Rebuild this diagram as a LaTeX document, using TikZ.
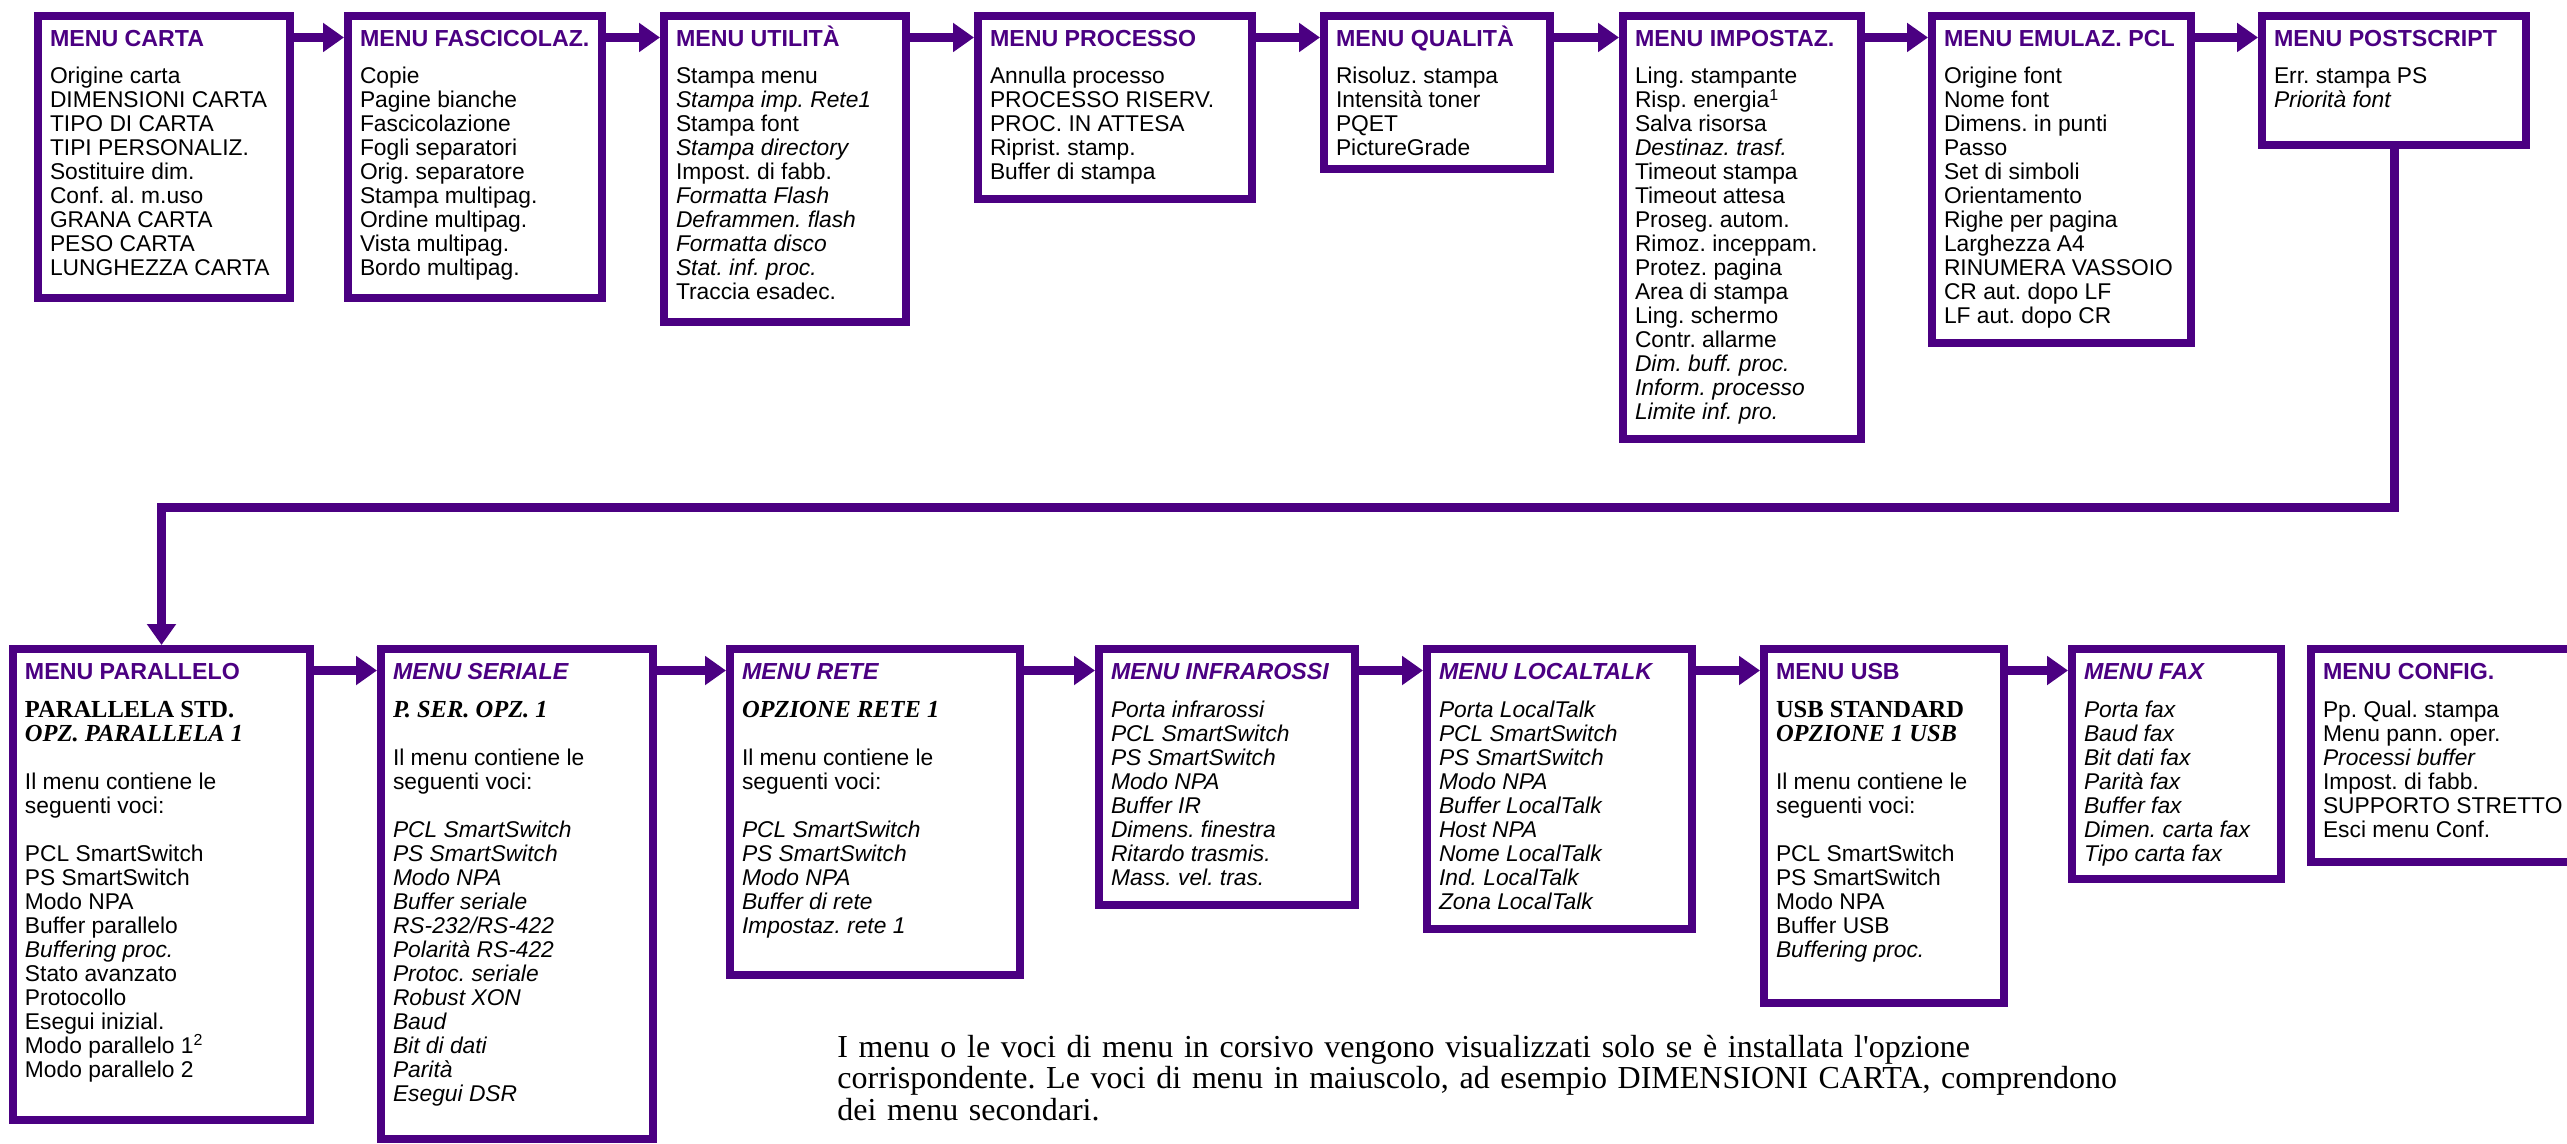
\documentclass[tikz,border=0pt]{standalone}
\usepackage{fontspec}
\setmainfont{Liberation Sans}
\newfontfamily\seriffont{Liberation Serif}
\usepackage{tikz}
\usetikzlibrary{arrows.meta}
\definecolor{indaco}{RGB}{75,0,130}
\frenchspacing
\newlength{\pxu}
\setlength{\pxu}{0.5pt}
\tikzset{
    menubox/.style={
        draw=indaco,
        line width=4pt,
        outer sep=2pt,
        inner xsep=6pt,
        inner ysep=0pt,
        anchor=north west
    },
    flow/.style={
        draw=indaco,
        line width=4.5pt,
        -{Triangle[length=10.5pt,width=14pt]}
    },
    note/.style={
        anchor=base west,
        inner sep=0pt,
        text width=700pt,
        font=\seriffont\fontsize{16}{15.75}\selectfont
    }
}
\newcommand{\boxfont}{\fontsize{11.4}{12}\selectfont\lineskiplimit=-\maxdimen\raggedright}
\newcommand{\mtitle}[1]{\rule{0pt}{15.25pt}\mbox{\fontsize{11.6}{12}\selectfont\bfseries\color{indaco}#1}\\[6.75pt]}
\newcommand{\mtitleit}[1]{\rule{0pt}{15.25pt}\mbox{\fontsize{11.6}{12}\selectfont\bfseries\itshape\color{indaco}#1}\\[6.75pt]}
\newcommand{\opzstd}[1]{{\seriffont\bfseries\fontsize{12.25}{12}\selectfont #1}}
\newcommand{\opzit}[1]{{\seriffont\bfseries\itshape\fontsize{12.25}{12}\selectfont #1}}
\newcommand{\menubox}[6] {
	\node[menubox] (#1) at (#2,#3) {\parbox[t][\dimexpr#5\pxu-8\pxu\relax][t]{\dimexpr#4\pxu-32\pxu\relax}{\boxfont #6}};
}
\newcommand{\freccia}[2] {
	\draw[flow] ([yshift=-12.75pt]#1.north east) -- ([yshift=-12.75pt]#2.north west);
}

\begin{document}
\begin{tikzpicture}[x=0.5pt,y=-0.5pt]
		\useasboundingbox (0,0) rectangle (2567,1144);
		\clip (0,0) rectangle (2567,1144);

		% top row
		\menubox{carta}{34}{12}{259.5}{290}{\mtitle{MENU CARTA}
			Origine carta\\ DIMENSIONI CARTA\\ TIPO DI CARTA\\ TIPI PERSONALIZ.\\ Sostituire dim.\\ Conf. al. m.uso\\ GRANA CARTA\\ PESO CARTA\\ LUNGHEZZA CARTA}
		\menubox{fasc}{344}{12}{262}{290}{\mtitle{MENU FASCICOLAZ.}
			Copie\\ Pagine bianche\\ Fascicolazione\\ Fogli separatori\\ Orig. separatore\\ Stampa multipag.\\ Ordine multipag.\\ Vista multipag.\\ Bordo multipag.}
		\menubox{util}{660}{12}{249.5}{314}{\mtitle{MENU UTILITÀ}
			Stampa menu\\ \textit{Stampa imp. Rete1}\\ Stampa font\\ \textit{Stampa directory}\\ Impost. di fabb.\\ \textit{Formatta Flash}\\ \textit{Deframmen. flash}\\ \textit{Formatta disco}\\ \textit{Stat. inf. proc.}\\ Traccia esadec.}
		\menubox{proc}{974}{12}{282}{191}{\mtitle{MENU PROCESSO}
			Annulla processo\\ PROCESSO RISERV.\\ PROC. IN ATTESA\\ Riprist. stamp.\\ Buffer di stampa}
		\menubox{qual}{1320}{12}{234}{161}{\mtitle{MENU QUALITÀ}
			Risoluz. stampa\\ Intensità toner\\ PQET\\ PictureGrade}
		\menubox{impost}{1619}{12}{246}{431}{\mtitle{MENU IMPOSTAZ.}
			Ling. stampante\\ Risp. energia\textsuperscript{1}\\ Salva risorsa\\ \textit{Destinaz. trasf.}\\ Timeout stampa\\ Timeout attesa\\ Proseg. autom.\\ Rimoz. inceppam.\\ Protez. pagina\\ Area di stampa\\ Ling. schermo\\ Contr. allarme\\ \textit{Dim. buff. proc.}\\ \textit{Inform. processo}\\ \textit{Limite inf. pro.}}
		\menubox{emul}{1928}{12}{267}{335}{\mtitle{MENU EMULAZ. PCL}
			Origine font\\ Nome font\\ Dimens. in punti\\ Passo\\ Set di simboli\\ Orientamento\\ Righe per pagina\\ Larghezza A4\\ RINUMERA VASSOIO\\ CR aut. dopo LF\\ LF aut. dopo CR}
		\menubox{ps}{2258}{12}{272}{137}{\mtitle{MENU POSTSCRIPT}
			Err. stampa PS\\ \textit{Priorità font}}

		\freccia{carta}{fasc}
		\freccia{fasc}{util}
		\freccia{util}{proc}
		\freccia{proc}{qual}
		\freccia{qual}{impost}
		\freccia{impost}{emul}
		\freccia{emul}{ps}

		% bottom row
		\menubox{parallelo}{9}{645}{305}{479}{\mtitle{MENU PARALLELO}
			\opzstd{PARALLELA STD.}\\ \opzit{OPZ. PARALLELA 1}\\[12pt]
			Il menu contiene le\\ seguenti voci:\\[12pt]
			PCL SmartSwitch\\ PS SmartSwitch\\ Modo NPA\\ Buffer parallelo\\ \textit{Buffering proc.}\\ Stato avanzato\\ Protocollo\\ Esegui inizial.\\ Modo parallelo 1\textsuperscript{2}\\ Modo parallelo 2}
		\menubox{seriale}{377}{645}{280}{498}{\mtitleit{MENU SERIALE}
			\opzit{P. SER. OPZ. 1}\\[12pt]
			Il menu contiene le\\ seguenti voci:\\[12pt]
			{\itshape PCL SmartSwitch\\ PS SmartSwitch\\ Modo NPA\\ Buffer seriale\\ RS-232/RS-422\\ Polarità RS-422\\ Protoc. seriale\\ Robust XON\\ Baud\\ Bit di dati\\ Parità\\ Esegui DSR}}
		\menubox{rete}{726}{645}{298}{334}{\mtitleit{MENU RETE}
			\opzit{OPZIONE RETE 1}\\[12pt]
			Il menu contiene le\\ seguenti voci:\\[12pt]
			{\itshape PCL SmartSwitch\\ PS SmartSwitch\\ Modo NPA\\ Buffer di rete\\ Impostaz. rete 1}}
		\menubox{infra}{1095}{645}{264}{264}{\mtitleit{MENU INFRAROSSI}
			{\itshape Porta infrarossi\\ PCL SmartSwitch\\ PS SmartSwitch\\ Modo NPA\\ Buffer IR\\ Dimens. finestra\\ Ritardo trasmis.\\ Mass. vel. tras.}}
		\menubox{local}{1423}{645}{273}{288}{\mtitleit{MENU LOCALTALK}
			{\itshape Porta LocalTalk\\ PCL SmartSwitch\\ PS SmartSwitch\\ Modo NPA\\ Buffer LocalTalk\\ Host NPA\\ Nome LocalTalk\\ Ind. LocalTalk\\ Zona LocalTalk}}
		\menubox{usb}{1760}{645}{248}{362}{\mtitle{MENU USB}
			\opzstd{USB STANDARD}\\ \opzit{OPZIONE 1 USB}\\[12pt]
			Il menu contiene le\\ seguenti voci:\\[12pt]
			PCL SmartSwitch\\ PS SmartSwitch\\ Modo NPA\\ Buffer USB\\ \textit{Buffering proc.}}
		\menubox{fax}{2068}{645}{217}{238}{\mtitleit{MENU FAX}
			{\itshape Porta fax\\ Baud fax\\ Bit dati fax\\ Parità fax\\ Buffer fax\\ Dimen. carta fax\\ Tipo carta fax}}
		\menubox{config}{2307}{645}{320}{221}{\mtitle{MENU CONFIG.}
			Pp. Qual. stampa\\ Menu pann. oper.\\ \textit{Processi buffer}\\ Impost. di fabb.\\ SUPPORTO STRETTO\\ Esci menu Conf.}

		\freccia{parallelo}{seriale}
		\freccia{seriale}{rete}
		\freccia{rete}{infra}
		\freccia{infra}{local}
		\freccia{local}{usb}
		\freccia{usb}{fax}

		% link to the second row
		\coordinate (giro) at (0,507);
		\draw[flow] (ps.south) -- (ps.south |- giro) -| (parallelo.north);

		% footnote
		\node[note] (nota) at (837,1057) {I menu o le voci di menu in corsivo vengono visualizzati solo se è installata l'opzione\\
			corrispondente. Le voci di menu in maiuscolo, ad esempio DIMENSIONI CARTA, comprendono\\
			dei menu secondari.};
\end{tikzpicture}
\end{document}
